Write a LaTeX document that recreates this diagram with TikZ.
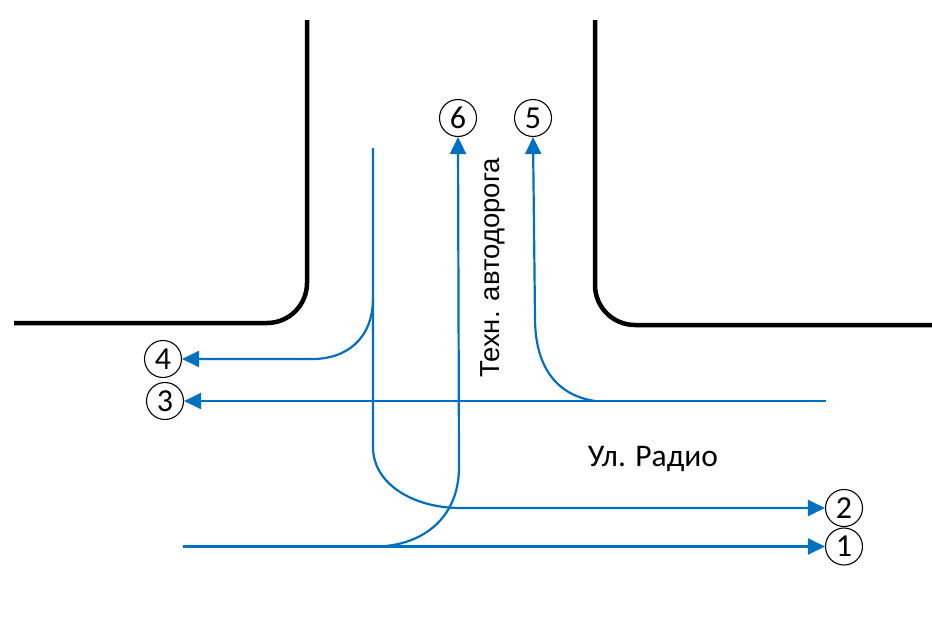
\documentclass[tikz,border=0pt]{standalone}
\usepackage{fontspec}
\setmainfont{Carlito}
\newfontfamily\arialf{Liberation Sans}
\usetikzlibrary{arrows.meta}
\definecolor{rblue}{RGB}{0,112,192}
\begin{document}
\begin{tikzpicture}[x=1pt,y=-1pt,
  road/.style={line width=4.5pt,black},
  path/.style={line width=2.2pt,rblue},
  arr/.style={path,-{Triangle[length=17pt,width=16pt]}},
  num/.style={circle,draw,line width=1.1pt,minimum size=37pt,inner sep=0pt,font=\fontsize{32}{34}\selectfont},
  lbl/.style={font=\fontsize{31.5}{34}\selectfont}]
\useasboundingbox (0,0) rectangle (932,619);
% roads
\draw[road] (307,20) -- (307,283) arc[start angle=0,end angle=90,radius=40] -- (14,323);
\draw[road] (595,20) -- (595,285) arc[start angle=180,end angle=90,radius=40] -- (932,325);
% number nodes
\node[num] (n1) at (844,546.5) {1};
\node[num] (n2) at (844,508) {2};
\node[num] (n3) at (165,401) {3};
\node[num] (n4) at (163,359) {4};
\node[num] (n5) at (533,118) {5};
\node[num] (n6) at (458,118) {6};
% free ends
\coordinate (a0) at (373,148);
\coordinate (r3) at (826,401);
\coordinate (l1) at (183,546.5);
% path A: down then right to 2
\draw[arr] (a0) -- (373,447) .. controls (373,485) and (415,508) .. (460,508) -- (n2.west);
% branch to 4
\draw[arr] (373,298) .. controls (373,340) and (345,359) .. (313,359) -- (n4.east);
% path 3
\draw[arr] (r3) -- (n3.east);
% path 5
\draw[arr] (595,401) .. controls (555,395) and (535,365) .. (535,318) -- (n5.south);
% path 1
\draw[arr] (l1) -- (n1.west);
% path 6
\draw[arr] (375,546.5) .. controls (420,546.5) and (459,520) .. (459,467) -- (n6.south);
% labels
\node[font=\arialf\fontsize{27.5}{30}\selectfont,rotate=90] (t1) at (493,268) {Техн. автодорога};
\node[lbl] (t2) at (653,459) {Ул. Радио};
\end{tikzpicture}
\end{document}
